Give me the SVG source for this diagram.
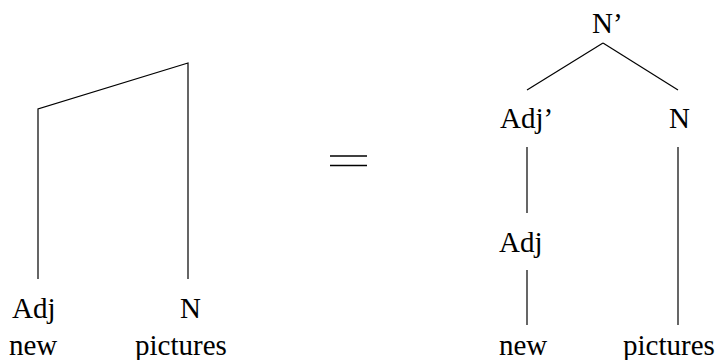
<svg xmlns="http://www.w3.org/2000/svg" width="718" height="360" viewBox="0 0 718 360">
<style>
.e{fill:none;stroke:#000;stroke-width:1.2}
</style>
<rect width="718" height="360" fill="#fff"/>
<g id="connectors">
<polyline class="e" points="38,279 38,109 188,63 188,279"/>
<line class="e" x1="603" y1="43" x2="527" y2="90"/>
<line class="e" x1="603" y1="43" x2="678" y2="90"/>
<line class="e" x1="527" y1="147" x2="527" y2="213"/>
<line class="e" x1="527" y1="270" x2="527" y2="325"/>
<line class="e" x1="678" y1="147" x2="678" y2="325"/>
</g>
<g font-family="'Liberation Serif', 'Times New Roman', Times, serif" font-size="29" fill="#000">
<g id="left-adj"><text x="12" y="318">Adj</text></g>
<g id="left-n"><text x="180" y="318">N</text></g>
<g id="left-new"><text x="9" y="355">new</text></g>
<g id="left-pictures"><text x="135" y="355">pictures</text></g>
<g id="n-bar"><text x="592" y="33">N’</text></g>
<g id="adj-bar"><text x="500" y="128">Adj’</text></g>
<g id="n"><text x="669" y="128">N</text></g>
<g id="adj"><text x="499" y="252">Adj</text></g>
<g id="new"><text x="499" y="355">new</text></g>
<g id="pictures"><text x="623" y="355">pictures</text></g>
</g>
<g id="equals"><line x1="330" y1="156" x2="367" y2="156" stroke="#000" stroke-width="1.6"/><line x1="330" y1="165.5" x2="367" y2="165.5" stroke="#000" stroke-width="1.6"/></g>
</svg>
